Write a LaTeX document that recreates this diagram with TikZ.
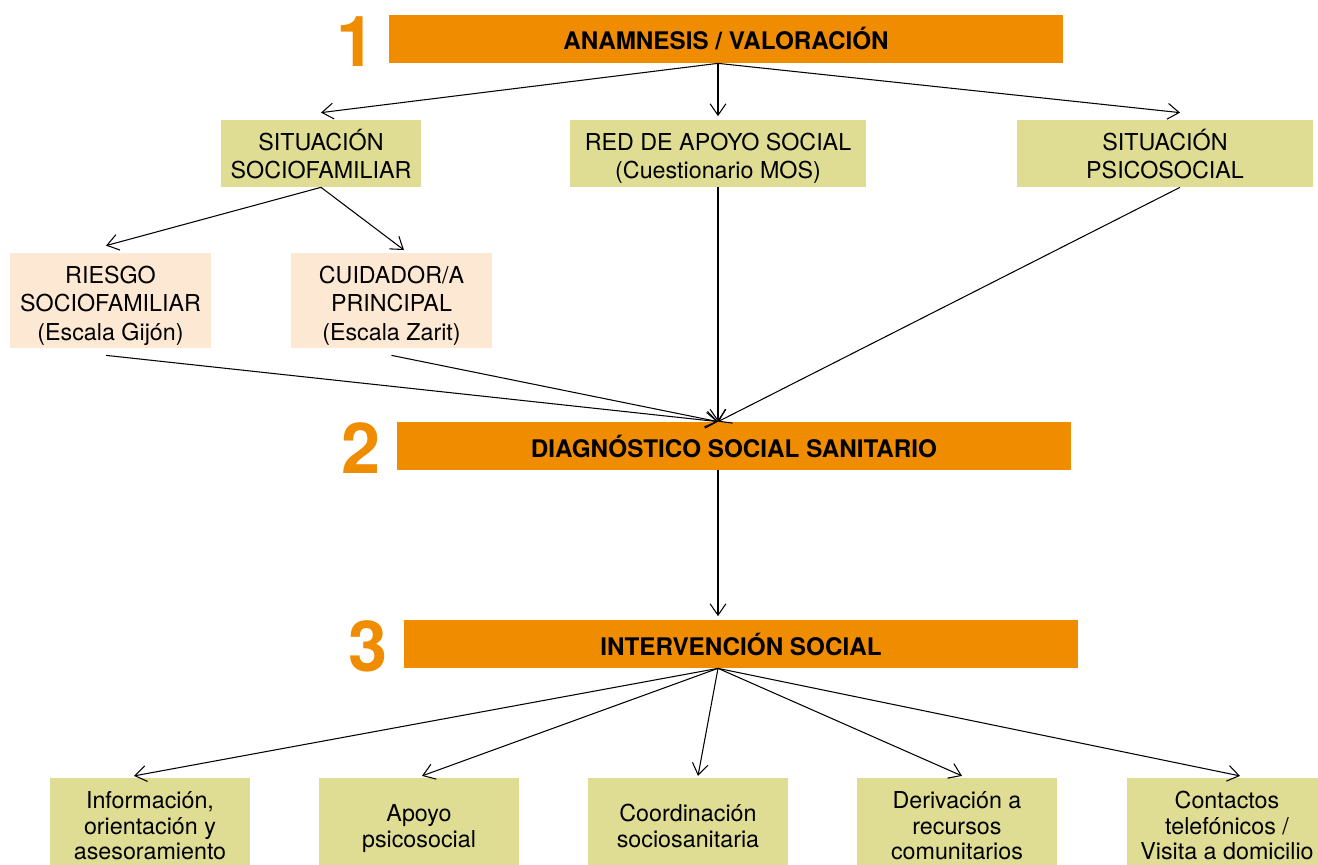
\documentclass[tikz,border=0pt]{standalone}
\usepackage{fontspec}
\setmainfont{TeX Gyre Heros}
\usetikzlibrary{arrows.meta}
\definecolor{naranja}{RGB}{240,140,0}
\definecolor{verde}{RGB}{223,220,148}
\definecolor{crema}{RGB}{253,233,211}
\newcommand{\primera}{\rule{0pt}{17pt}}% first line sits a bit low in the boxes

\begin{document}
\begin{tikzpicture}[x=0.02cm,y=-0.02cm,
	every node/.style={align=center,inner sep=0pt},
	fase/.style={fill=naranja,minimum width=13.48cm,minimum height=0.96cm,font=\bfseries\fontsize{13.8}{16}\selectfont},
	numero/.style={text=naranja,font=\bfseries\fontsize{40}{40}\selectfont},
	texto/.style={font=\fontsize{13.25}{16}\selectfont,
		execute at end node={\rule[-4pt]{0pt}{4pt}}},% same last line depth
	caja/.style={texto,fill=verde,minimum width=4cm,minimum height=1.34cm},
	escala/.style={texto,fill=crema,minimum width=4.02cm,minimum height=1.9cm},
	accion/.style={texto,fill=verde,minimum width=4.02cm,minimum height=1.8cm,font=\fontsize{13.25}{14.5}\selectfont},
	flecha/.style={-{Straight Barb[length=6.5pt,width=9pt]},line width=0.6pt}]
	\useasboundingbox (0,0) rectangle (1318,865);
	% fases
	\node[fase] (fase1) at (726,39) {ANAMNESIS / VALORACIÓN};
	\node[fase] (fase2) at (734,446) {DIAGNÓSTICO SOCIAL SANITARIO};
	\node[fase] (fase3) at (741,644) {INTERVENCIÓN SOCIAL};
	\node[numero] (n1) at (356,42) {1};
	\node[numero] (n2) at (361,448) {2};
	\node[numero] (n3) at (368,646) {3};
	% valoracion
	\node[caja] (sociofam) at (321,153.5) {\primera SITUACIÓN\\SOCIOFAMILIAR};
	\node[caja,minimum width=5.92cm] (apoyo) at (718,153.5) {\primera RED DE APOYO SOCIAL\\(Cuestionario MOS)};
	\node[caja,minimum width=5.92cm] (psico) at (1165,153.5) {\primera SITUACIÓN\\PSICOSOCIAL};
	\node[escala] (gijon) at (110.5,300.5) {\primera RIESGO\\SOCIOFAMILIAR\\(Escala Gijón)};
	\node[escala] (zarit) at (391.5,300.5) {\primera CUIDADOR/A\\PRINCIPAL\\(Escala Zarit)};
	% intervenciones
	\node[accion] (info) at (150,823) {\primera Información,\\orientación y\\asesoramiento};
	\node[accion] (psicosoc) at (419,823) {\primera Apoyo\\psicosocial};
	\node[accion] (coord) at (688,823) {\primera Coordinación\\sociosanitaria};
	\node[accion] (deriv) at (957,823) {\primera Derivación a\\recursos\\comunitarios};
	\node[accion] (contac) at (1227,823) {\primera Contactos\\telefónicos /\\Visita a domicilio};
	% conectores
	\coordinate (o1) at (fase1.south -| apoyo.north);
	\draw[flecha] (o1) -- ([yshift=4pt]sociofam.north);
	\draw[flecha] (o1) -- ([yshift=2pt]apoyo.north);
	\draw[flecha] (o1) -- ([xshift=0.3cm,yshift=4pt]psico.north);
	\draw[flecha] (sociofam.south) -- ([xshift=-0.09cm,yshift=4pt]gijon.north);
	\draw[flecha] (sociofam.south) -- ([xshift=0.25cm,yshift=1.5pt]zarit.north);
	\coordinate (o2) at (fase2.north -| apoyo.south);
	\draw[flecha] ([xshift=-0.09cm,yshift=-4pt]gijon.south) -- (o2);
	\draw[flecha] ([yshift=-4pt]zarit.south) -- (o2);
	\draw[flecha] (apoyo.south) -- (o2);
	\draw[flecha] ([xshift=0.3cm]psico.south) -- (o2);
	\draw[flecha] (fase2.south -| apoyo.south) -- ([yshift=2pt]fase3.north -| apoyo.south);
	\coordinate (o3) at (fase3.south -| apoyo.south);
	\draw[flecha] (o3) -- ([xshift=-0.32cm,yshift=1pt]info.north);
	\draw[flecha] (o3) -- ([xshift=0.06cm,yshift=1pt]psicosoc.north);
	\draw[flecha] (o3) -- ([xshift=0.2cm,yshift=1pt]coord.north);
	\draw[flecha] (o3) -- ([xshift=0.1cm,yshift=1pt]deriv.north);
	\draw[flecha] (o3) -- ([xshift=0.26cm,yshift=1pt]contac.north);
\end{tikzpicture}
\end{document}
